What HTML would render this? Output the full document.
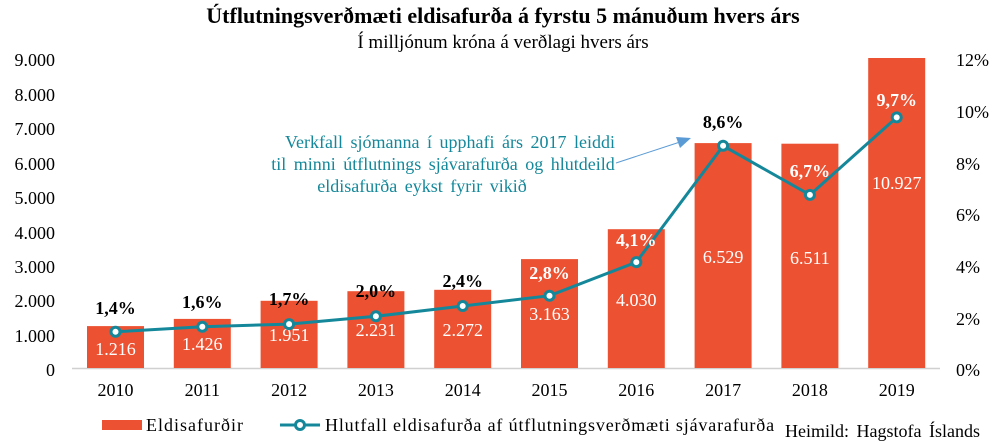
<!DOCTYPE html>
<html><head><meta charset="utf-8"><style>body{margin:0;background:#fff}svg{display:block}text{font-family:"Liberation Serif",serif}</style></head><body>
<svg width="1004" height="443" viewBox="0 0 1004 443">
<text x="503" y="23" text-anchor="middle" font-size="22" font-weight="bold">Útflutningsverðmæti eldisafurða á fyrstu 5 mánuðum hvers árs</text>
<text x="503" y="48" text-anchor="middle" font-size="19">Í milljónum króna á verðlagi hvers árs</text>
<g font-size="18" text-anchor="end">
<text x="55" y="66">9.000</text><text x="55" y="101">8.000</text><text x="55" y="135">7.000</text><text x="55" y="170">6.000</text><text x="55" y="204">5.000</text><text x="55" y="239">4.000</text><text x="55" y="273">3.000</text><text x="55" y="307">2.000</text><text x="55" y="342">1.000</text><text x="55" y="376">0</text>
</g>
<g font-size="18">
<text x="956" y="66">12%</text><text x="956" y="118">10%</text><text x="956" y="170">8%</text><text x="956" y="221">6%</text><text x="956" y="273">4%</text><text x="956" y="325">2%</text><text x="956" y="376">0%</text>
</g>
<line x1="72" y1="368.5" x2="940" y2="368.5" stroke="#d0d0d0" stroke-width="1.5"/>
<g fill="#ec5132">
<rect x="87" y="326.1" width="57" height="41.9"/>
<rect x="173.8" y="318.9" width="57" height="49.1"/>
<rect x="260.6" y="300.8" width="57" height="67.2"/>
<rect x="347.4" y="291.2" width="57" height="76.8"/>
<rect x="434.2" y="289.8" width="57" height="78.2"/>
<rect x="521" y="259.1" width="57" height="108.9"/>
<rect x="607.8" y="229.2" width="57" height="138.8"/>
<rect x="694.6" y="143.1" width="57" height="224.9"/>
<rect x="781.4" y="143.7" width="57" height="224.3"/>
<rect x="868.2" y="58" width="57" height="310"/>
</g>
<g font-size="18" fill="#fff" text-anchor="middle">
<text x="115.5" y="355">1.216</text><text x="202.3" y="350">1.426</text><text x="289.1" y="341">1.951</text><text x="375.9" y="336">2.231</text><text x="462.7" y="336">2.272</text><text x="549.5" y="320">3.163</text><text x="636.3" y="306">4.030</text><text x="723.1" y="263">6.529</text><text x="809.9" y="264">6.511</text><text x="896.7" y="189">10.927</text>
</g>
<polyline fill="none" stroke="#14889a" stroke-width="3" points="115.5,331.8 202.3,326.7 289.1,324.1 375.9,316.3 462.7,306 549.5,295.7 636.3,262.1 723.1,145.8 809.9,194.9 896.7,117.4"/>
<g fill="#fff" stroke="#14889a" stroke-width="3">
<circle cx="115.5" cy="331.8" r="4.5"/><circle cx="202.3" cy="326.7" r="4.5"/><circle cx="289.1" cy="324.1" r="4.5"/><circle cx="375.9" cy="316.3" r="4.5"/><circle cx="462.7" cy="306" r="4.5"/><circle cx="549.5" cy="295.7" r="4.5"/><circle cx="636.3" cy="262.1" r="4.5"/><circle cx="723.1" cy="145.8" r="4.5"/><circle cx="809.9" cy="194.9" r="4.5"/><circle cx="896.7" cy="117.4" r="4.5"/>
</g>
<g font-size="18" font-weight="bold" text-anchor="middle">
<text x="115.5" y="314">1,4%</text><text x="202.3" y="308">1,6%</text><text x="289.1" y="305">1,7%</text><text x="375.9" y="297">2,0%</text><text x="462.7" y="287">2,4%</text><text x="549.5" y="279" fill="#fff">2,8%</text><text x="636.3" y="246" fill="#fff">4,1%</text><text x="723.1" y="128">8,6%</text><text x="809.9" y="177" fill="#fff">6,7%</text><text x="896.7" y="106" fill="#fff">9,7%</text>
</g>
<g font-size="18" fill="#14889a" text-anchor="middle" word-spacing="3">
<text x="450" y="148">Verkfall sjómanna í upphafi árs 2017 leiddi</text>
<text x="443" y="170">til minni útflutnings sjávarafurða og hlutdeild</text>
<text x="422" y="192">eldisafurða eykst fyrir vikið</text>
</g>
<line x1="616" y1="163" x2="680" y2="142" stroke="#5b9bd5" stroke-width="1"/>
<polygon points="691,138 676,137 680,148" fill="#5b9bd5"/>
<g font-size="18" text-anchor="middle">
<text x="115.5" y="396">2010</text><text x="202.3" y="396">2011</text><text x="289.1" y="396">2012</text><text x="375.9" y="396">2013</text><text x="462.7" y="396">2014</text><text x="549.5" y="396">2015</text><text x="636.3" y="396">2016</text><text x="723.1" y="396">2017</text><text x="809.9" y="396">2018</text><text x="896.7" y="396">2019</text>
</g>
<rect x="102" y="420" width="40" height="10" fill="#ec5132"/>
<text x="146" y="431" font-size="18" letter-spacing="1">Eldisafurðir</text>
<line x1="280" y1="425" x2="320" y2="425" stroke="#14889a" stroke-width="3"/>
<circle cx="300" cy="425" r="4.5" fill="#fff" stroke="#14889a" stroke-width="3"/>
<text x="325" y="431" font-size="18" letter-spacing="0.9" textLength="450">Hlutfall eldisafurða af útflutningsverðmæti sjávarafurða</text>
<text x="980" y="437" font-size="18" text-anchor="end" word-spacing="3">Heimild: Hagstofa Íslands</text>
</svg>
</body></html>
